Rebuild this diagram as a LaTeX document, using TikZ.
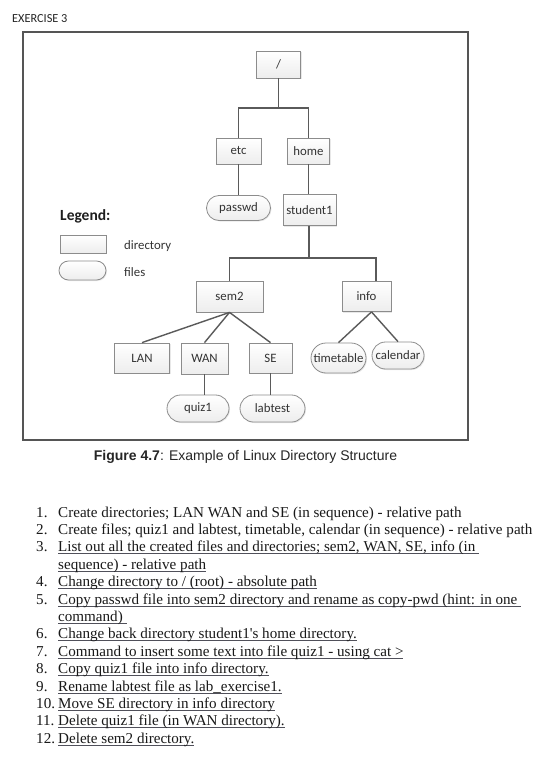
\documentclass[tikz,border=0pt]{standalone}
\usepackage{fontspec}
\setmainfont{Liberation Serif}
\newfontfamily\calfont{Carlito}
\newfontfamily\arialfont{Liberation Sans}
\usetikzlibrary{shapes.misc,shadows,calc}
\definecolor{boxborder}{HTML}{8C8C8C}
\definecolor{conn}{HTML}{5A5A5A}
\definecolor{treetext}{HTML}{333333}
\definecolor{frame}{HTML}{555555}
\definecolor{ulgray}{HTML}{50505A}
\newsavebox\ulbox
\newcommand\myul[1]{\sbox\ulbox{#1}\rlap{\color{ulgray}\rule[-2.4pt]{\wd\ulbox}{0.9pt}}\usebox\ulbox}
\begin{document}
\begin{tikzpicture}[x=1pt,y=-1pt,
  dirbox/.style={draw=boxborder, line width=0.8pt, top color=white, bottom color=gray!14,
    drop shadow={opacity=0.18, shadow xshift=1pt, shadow yshift=-1pt},
    rectangle, inner sep=0pt, font=\calfont\fontsize{12.8}{14}\selectfont, text=treetext},
  filebox/.style={dirbox, shape=rounded rectangle},
  conn/.style={draw=conn, line width=1.4pt},
  listtxt/.style={anchor=base west, inner sep=0pt, font=\fontsize{15.1}{17}\selectfont, text=black!90},
]
\useasboundingbox (0,0) rectangle (550,762);
\fill[white] (0,0) rectangle (550,762);

\node[anchor=west, inner sep=0pt, font=\calfont\fontsize{12.3}{14}\selectfont, text=black!85] (title) at (12,19) {EXERCISE 3};
\draw[frame, line width=1.1pt] (23,32) rectangle (468,440);

% directories and files
\node[dirbox, minimum width=44pt, minimum height=27pt] (root) at (278.5,64.5) {/};
\node[dirbox, minimum width=45pt, minimum height=26pt] (etc) at (238.5,151) {etc};
\node[dirbox, minimum width=42pt, minimum height=26pt] (home) at (308.5,151) {home};
\node[filebox, minimum width=64pt, minimum height=25pt] (passwd) at (238.5,208) {passwd};
\node[dirbox, minimum width=53pt, minimum height=31pt] (student1) at (309.5,210) {student1};
\node[dirbox, minimum width=67pt, minimum height=31pt] (sem2) at (229.5,296.5) {sem2};
\node[dirbox, minimum width=49pt, minimum height=30pt] (info) at (366.5,296.5) {info};
\node[dirbox, minimum width=55pt, minimum height=30pt] (LAN) at (142,358) {LAN};
\node[dirbox, minimum width=47pt, minimum height=31pt] (WAN) at (204.5,358.5) {WAN};
\node[dirbox, minimum width=43pt, minimum height=30pt] (SE) at (270.5,358) {SE};
\node[filebox, minimum width=55pt, minimum height=30pt] (timetable) at (338.5,358) {timetable};
\node[filebox, minimum width=52pt, minimum height=27pt] (calendar) at (398,355.5) {calendar};
\node[filebox, minimum width=62pt, minimum height=27pt] (quiz1) at (198,408.5) {quiz1};
\node[filebox, minimum width=65pt, minimum height=27pt] (labtest) at (272.5,408.5) {labtest};

% connectors
\coordinate (j1) at (278.5,108);
\coordinate (j2) at (309,258);
\coordinate (jinfo) at (376,258);
\coordinate (infofan) at ($(info.south)+(5,0)$);
\draw[conn] (root.south) -- (j1);
\draw[conn] (j1) -| (etc.north);
\draw[conn] (j1) -| (home.north);
\draw[conn] (etc.south) -- (passwd.north);
\draw[conn] (home.south) -- (home.south |- student1.north);
\draw[conn] (student1.south -| j2) -- (j2);
\draw[conn] (j2) -| (sem2.north);
\draw[conn] (j2) -- (jinfo) -- (jinfo |- info.north);
\draw[conn] (sem2.south) -- (LAN.north);
\draw[conn] (sem2.south) -- (WAN.north);
\draw[conn] (sem2.south) -- (SE.north);
\draw[conn] (infofan) -- (timetable.north);
\draw[conn] (infofan) -- (calendar.north);
\draw[conn] (WAN.south) -- (WAN.south |- quiz1.north);
\draw[conn] (SE.south) -- (SE.south |- labtest.north);

% legend
\node[anchor=west, inner sep=0pt, font=\calfont\bfseries\fontsize{15.5}{18}\selectfont, text=black!88] (legend) at (60,216) {Legend:};
\node[dirbox, minimum width=46pt, minimum height=18pt] (legdir) at (83,244) {};
\node[filebox, minimum width=47pt, minimum height=19pt] (legfile) at (82.5,270.5) {};
\node[anchor=west, inner sep=0pt, font=\calfont\fontsize{12.8}{14}\selectfont, text=treetext] (legdirtxt) at (124,246) {directory};
\node[anchor=west, inner sep=0pt, font=\calfont\fontsize{12.8}{14}\selectfont, text=treetext] (legfiletxt) at (124,272.5) {files};

% caption
\node[inner sep=0pt, font=\arialfont\fontsize{14}{16}\selectfont, text=black!85] (caption) at (245.5,457) {\textbf{Figure 4.7}: Example of Linux Directory Structure};

% list
\foreach \k/\num/\txt in {
  0/1./{Create directories; LAN WAN and SE (in sequence) - relative path},
  1/2./{Create files; quiz1 and labtest, timetable, calendar (in sequence) - relative path},
  2/3./{\myul{List out all the created files and directories; sem2, WAN, SE, info (in }},
  3//{\myul{sequence) - relative path}},
  4/4./{\myul{Change directory to / (root) - absolute path}},
  5/5./{\myul{Copy passwd file into sem2 directory and rename as copy-pwd (hint: in one }},
  6//{\myul{command) }},
  7/6./{\myul{Change back directory student1\textquotesingle s home directory.}},
  8/7./{\myul{Command to insert some text into file quiz1 - using cat >}},
  9/8./{\myul{Copy quiz1 file into info directory.}},
  10/9./{\myul{Rename labtest file as lab\_exercise1.}},
  11/10./{\myul{Move SE directory in info directory}},
  12/11./{\myul{Delete quiz1 file (in WAN directory).}},
  13/12./{\myul{Delete sem2 directory.}}}
{
  \node[listtxt] (num\k) at (36,517+17.4*\k) {\num};
  \node[listtxt] (item\k) at (58,517+17.4*\k) {\txt};
}
\end{tikzpicture}
\end{document}
